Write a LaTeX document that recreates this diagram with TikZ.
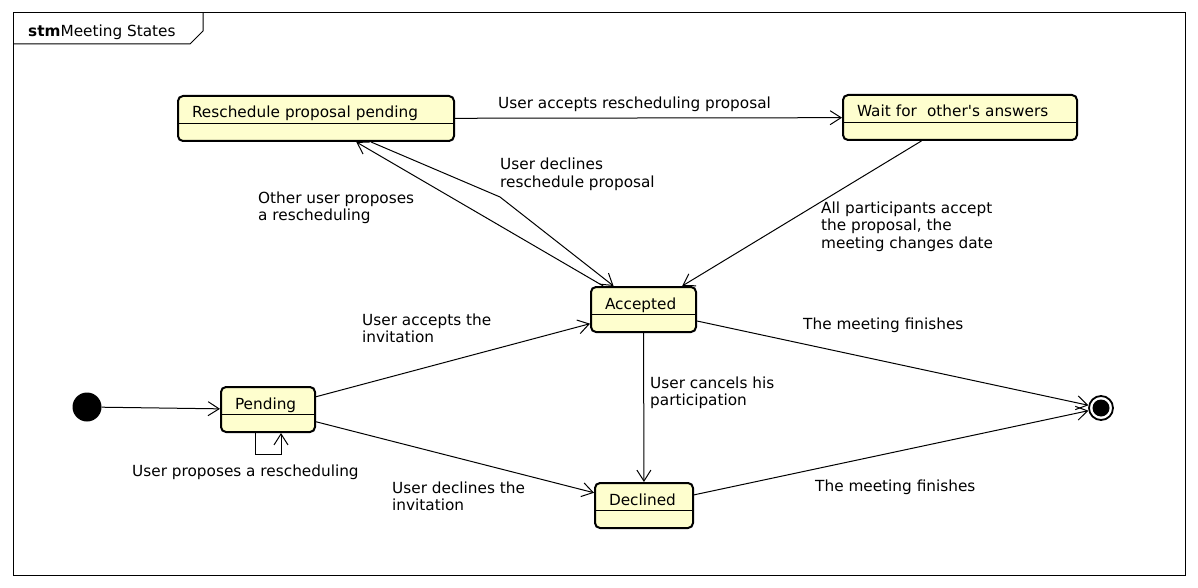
\documentclass[tikz,border=0pt]{standalone}
\usepackage{fontspec}
\setmainfont{DejaVu Sans}
\usetikzlibrary{arrows.meta}
\tikzset{>={Straight Barb[length=11pt,width=14pt]}}
\definecolor{statefill}{HTML}{FEFECE}
\tikzset{
  state/.style={draw, line width=2pt, rounded corners=5pt, fill=statefill,
    inner xsep=14pt, inner ysep=0pt, text height=22pt, text depth=23pt,
    align=left, anchor=north west},
  trans/.style={->, line width=1pt},
  lbl/.style={align=left, inner sep=0pt, anchor=base west},
}

\begin{document}
\begin{tikzpicture}[x=1pt, y=-1pt, font=\fontsize{15.3}{17.5}\selectfont]
      \useasboundingbox (0,0) rectangle (1198,588);
      % frame
      \draw[line width=1pt] (13,13) rectangle (1185,575);
      \draw[line width=1pt] (13,44) -- (190,44) -- (203,31) -- (203,13);
      \node[anchor=base west, inner sep=0pt] (title) at (28,37) {\textbf{stm}Meeting States};
      % states
      \node[state, text width=248pt] (resched) at (177,95) {Reschedule proposal pending};
      \node[state, text width=206pt] (wait) at (842,94) {Wait for~ other\textquotesingle s answers};
      \node[state, text width=77pt] (accepted) at (590,286) {Accepted};
      \node[state, text width=66pt] (pending) at (220,386) {Pending};
      \node[state, text width=70pt] (declined) at (594,482) {Declined};
      \foreach \s in {resched,wait,accepted,pending,declined}
        \draw[line width=1pt] ([yshift=-28.5pt]\s.north west) -- ([yshift=-28.5pt]\s.north east);
      \node[circle, fill=black, inner sep=0pt, minimum size=29pt] (start) at (87,407) {};
      \node[circle, draw, line width=1.8pt, inner sep=0pt, minimum size=24pt] (finish) at (1101,408) {};
      \fill (finish.center) circle (8.5pt);
      % transitions
      \draw[trans] (start) -- (pending);
      \draw[trans] (pending) -- (accepted);
      \draw[trans] (pending) -- (declined);
      \draw[trans] ([xshift=-13pt]pending.south) -- ++(0,21) -| ([xshift=13pt]pending.south);
      \draw[trans] (accepted) -- (declined);
      \draw[trans] (accepted) -- (finish);
      \draw[trans] (declined) -- (finish);
      \draw[trans] (resched) -- (wait);
      \draw[trans] (wait) -- (accepted);
      \draw[trans] (accepted) -- (resched);
      \coordinate (bend) at (500,197);
      \draw[trans] (resched) -- (bend) -- (accepted);
      % labels (base = last line)
      \node[lbl] (l-resched) at (498,109) {User accepts rescheduling proposal};
      \node[lbl] (l-declres) at (500,187.5) {User declines\\reschedule proposal};
      \node[lbl] (l-other) at (258,220.5) {Other user proposes\\a rescheduling};
      \node[lbl] (l-all) at (821,248) {All participants accept\\the proposal, the\\meeting changes date};
      \node[lbl] (l-accept) at (362,342.5) {User accepts the\\invitation};
      \node[lbl] (l-cancel) at (650,405.5) {User cancels his\\participation};
      \node[lbl] (l-fin1) at (803,329) {The meeting finishes};
      \node[lbl] (l-fin2) at (815,491) {The meeting finishes};
      \node[lbl] (l-decline) at (392,510.5) {User declines the\\invitation};
      \node[lbl] (l-self) at (132,476) {User proposes a rescheduling};
\end{tikzpicture}
\end{document}
